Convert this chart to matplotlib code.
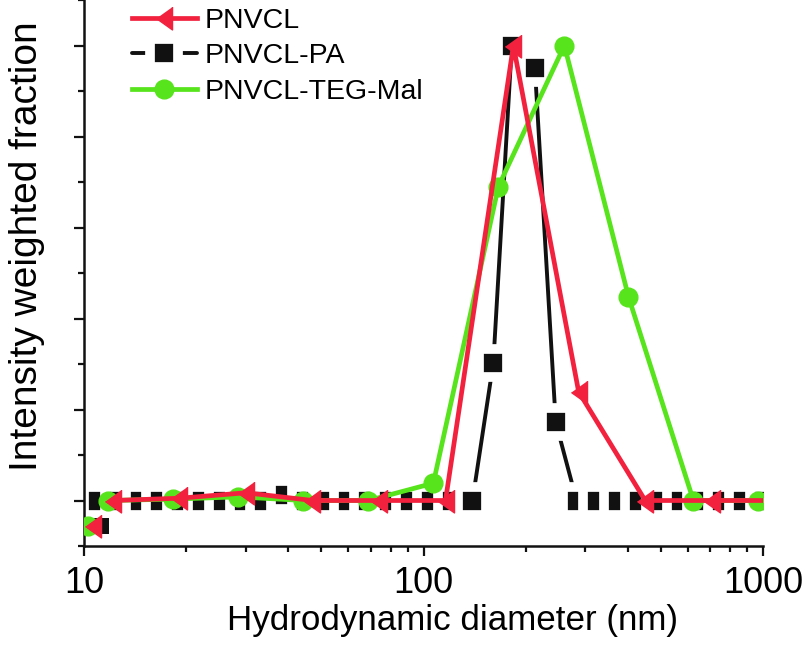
import matplotlib
matplotlib.use("Agg")
import matplotlib.pyplot as plt
from matplotlib.ticker import FixedLocator, NullFormatter, LogLocator

plt.rcParams['font.family'] = ['Liberation Sans', 'DejaVu Sans']

# ---- data ----
series_names = ["PNVCL", "PNVCL-PA", "PNVCL-TEG-Mal"]

pnvcl_x = [12.2, 19.1, 30.0, 47.1, 74.0, 116.1, 184.0, 286.4, 449.8, 706.3, 1109]
pnvcl_y = [0, 0.5, 1.7, 0, 0, 0, 100, 23.9, 0, 0, 0]

pa_x = [11.0, 12.66, 14.58, 16.79, 19.33, 22.26, 25.63, 29.52, 33.99, 39.14,
        45.08, 51.91, 59.78, 68.84, 79.27, 91.29, 105.1, 121.1, 139.4, 160.6,
        182.0, 212.9, 245.2, 282.4, 325.2, 374.5, 431.3, 496.7, 572.0, 658.7,
        758.6, 873.6, 1006]
pa_y = [0, 0, 0, 0, 0, 0, 0, 0, 0, 1.3,
        0, 0, 0, 0, 0, 0, 0, 0, 0, 30.3,
        100, 95, 17.2, 0, 0, 0, 0, 0, 0, 0,
        0, 0, 0]

teg_x = [11.8, 18.3, 28.5, 44.3, 68.8, 106.9, 166.2, 260.0, 401.5, 623.7, 969.6]
teg_y = [0, 0.3, 0.8, 0, 0, 3.8, 69, 100, 44.8, 0, 0]

# isolated points below the baseline at the left edge
pnvcl_x0, pnvcl_y0 = [10.65], [-5.7]
pa_x0, pa_y0 = [11.2], [-5.7]
teg_x0, teg_y0 = [10.3], [-5.7]

x_ticks = [10, 100, 1000]
x_ticklabels = ["10", "100", "1000"]

red = "#F2223F"
green = "#57E41C"
black = "#111111"

fig = plt.figure(figsize=(8.10, 6.46), dpi=100)
ax = fig.add_axes([84 / 810, 1 - 546 / 646, (763 - 84) / 810, 546 / 646])

tri_left = [(-0.7, 0), (0.7, -1), (0.7, 1)]

# black series (line with gaps around markers)
l_pa, = ax.plot(pa_x, pa_y, color=black, lw=2.8, marker='s', ms=19.8,
                mfc=black, mec='white', mew=7.0, solid_capstyle='round',
                zorder=2, label=series_names[1])
ax.plot(pa_x0, pa_y0, ls='none', marker='s', ms=12, mfc=black, mec=black,
        mew=0, zorder=2)

# green series
l_teg, = ax.plot(teg_x, teg_y, color=green, lw=3.4, marker='o', ms=13.5,
                 mfc=green, mec=green, zorder=3, label=series_names[2])
ax.plot(teg_x0, teg_y0, ls='none', marker='o', ms=13.5, mfc=green, mec=green,
        zorder=3)

# red series
l_pn, = ax.plot(pnvcl_x, pnvcl_y, color=red, lw=3.4, marker=tri_left, ms=16.5,
                mfc=red, mec=red, zorder=4, label=series_names[0])
ax.plot(pnvcl_x0, pnvcl_y0, ls='none', marker=tri_left, ms=16.5, mfc=red,
        mec=red, zorder=4)

ax.set_xscale('log')
ax.set_xlim(10, 1000)
ax.set_ylim(-10, 110)

ax.xaxis.set_major_locator(FixedLocator(x_ticks))
ax.set_xticklabels(x_ticklabels)
ax.xaxis.set_minor_locator(LogLocator(base=10, subs=range(2, 10)))
ax.xaxis.set_minor_formatter(NullFormatter())

ax.yaxis.set_major_locator(FixedLocator([0, 20, 40, 60, 80, 100]))
ax.yaxis.set_minor_locator(FixedLocator([-10, 10, 30, 50, 70, 90, 110]))
ax.set_yticklabels([])

for s in ['top', 'right']:
    ax.spines[s].set_visible(False)
for s in ['left', 'bottom']:
    ax.spines[s].set_linewidth(1.8)
    ax.spines[s].set_color(black)

ax.tick_params(which='major', direction='out', length=7.5, width=1.6,
               color=black, labelsize=26, pad=7)
ax.tick_params(which='minor', direction='out', length=4.5, width=1.6,
               color=black)

ax.set_xlabel("Hydrodynamic diameter (nm)", fontsize=25.2)
ax.xaxis.set_label_coords(0.5434, -0.107)
ax.set_ylabel("Intensity weighted fraction", fontsize=28)
ax.yaxis.set_label_coords(-0.058, 0.549)

leg = fig.legend([l_pn, l_pa, l_teg], series_names, loc='upper left',
                 bbox_to_anchor=(132 / 810, 1 - 7.5 / 646), frameon=False,
                 fontsize=20.5, handlelength=2.28, handletextpad=0.28,
                 labelspacing=0.335, borderpad=0, borderaxespad=0)

fig.savefig("out.png", dpi=100)
